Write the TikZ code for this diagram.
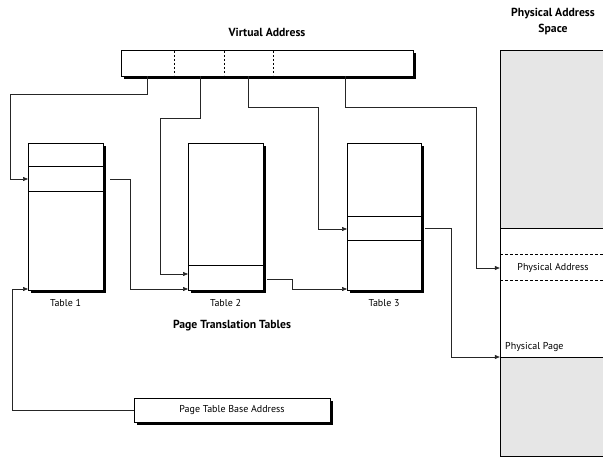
\documentclass[tikz,border=0pt]{standalone}
\usepackage{fontspec}
\setmainfont{PT Sans}
\usetikzlibrary{arrows.meta}
\definecolor{pgray}{HTML}{E6E6E6}
\tikzset{
  box/.style={draw, line width=0.7pt, fill=white, inner sep=0pt, outer sep=0pt},
  conn/.style={line width=0.6pt, draw=black!85, -{Triangle[length=5pt,width=4pt]}},
  lbl/.style={font=\fontsize{10}{12}\selectfont, inner sep=0pt},
  ttl/.style={font=\fontsize{11.7}{16}\selectfont\bfseries, inner sep=0pt, align=center},
  divider/.style={line width=0.6pt}
}
\newcommand{\shadowbox}[5]{% name, x1,y1,x2,y2
  \fill[black] (#2+3,#3+3) rectangle (#4+3,#5+3);
  \node[box, minimum width={(#4-#2)*1pt}, minimum height={(#5-#3)*1pt}] (#1) at ({(#2+#4)/2},{(#3+#5)/2}) {};
}
\begin{document}
\begin{tikzpicture}[x=1pt, y=-1pt]
\useasboundingbox (0,0) rectangle (603,457);
% physical address space
\fill[pgray] (500,50) rectangle (603,228);
\fill[pgray] (500,357) rectangle (603,456);
\node[inner sep=0pt, minimum width=103pt, minimum height=406pt] (pas) at (551.5,253) {};
\draw[line width=0.7pt] (603,50) -- (500,50) -- (500,456) -- (603,456);
\draw[line width=0.7pt] (500,228) -- (603,228);
\draw[line width=0.7pt] (500,357) -- (603,357);
\draw[line width=0.6pt, dash pattern=on 2.5pt off 2.5pt] (500,254) -- (603,254);
\draw[line width=0.6pt, dash pattern=on 2.5pt off 2.5pt] (500,280) -- (603,280);
\node[lbl] (pa) at (553,268) {Physical Address};
\node[lbl, anchor=south west] (pp) at (505,352) {Physical Page};
\node[ttl] (past) at (553,22) {Physical Address\\Space};
% virtual address
\node[ttl] (vat) at (267,32) {Virtual Address};
\shadowbox{va}{121}{50}{413}{76}
\foreach \x in {174,224,273}
  \draw[line width=0.6pt, dash pattern=on 2pt off 2pt] (\x,51) -- (\x,75);
% tables
\shadowbox{t1}{28}{143}{103}{290}
\shadowbox{t2}{188}{143}{263}{290}
\shadowbox{t3}{347}{143}{421}{290}
\draw[divider] (t1.west |- 0,166) -- (t1.east |- 0,166);
\draw[divider] (t1.west |- 0,191) -- (t1.east |- 0,191);
\draw[divider] (t2.west |- 0,265) -- (t2.east |- 0,265);
\draw[divider] (t3.west |- 0,216) -- (t3.east |- 0,216);
\draw[divider] (t3.west |- 0,240) -- (t3.east |- 0,240);
\node[lbl] (l1) at (65.5,303) {Table 1};
\node[lbl] (l2) at (225.5,303) {Table 2};
\node[lbl] (l3) at (384,303) {Table 3};
\node[ttl] (ptt) at (232,326) {Page Translation Tables};
% base address
\shadowbox{ptba}{134}{398}{330}{422}
\node[lbl] (ptbat) at (ptba.center) {Page Table Base Address};
% connectors
\draw[conn] (va.south -| 147,0) |- (10,94) |- (t1.west |- 0,179);
\draw[conn] (va.south -| 200,0) |- (160,118) |- (t2.west |- 0,274);
\draw[conn] (va.south -| 248,0) |- (318,107) |- (t3.west |- 0,229);
\draw[conn] (va.south -| 345,0) |- (476,107) |- (pas.west |- 0,268);
\draw[conn] (110,179) -| (130,289) -- (t2.west |- 0,289);
\draw[conn] (267,279) -| (292,289) -- (t3.west |- 0,289);
\draw[conn] (425,228) -| (451,357) -- (pas.west |- 0,357);
\draw[conn] (ptba.west) -| (12,289) -- (t1.west |- 0,289);
\end{tikzpicture}
\end{document}
